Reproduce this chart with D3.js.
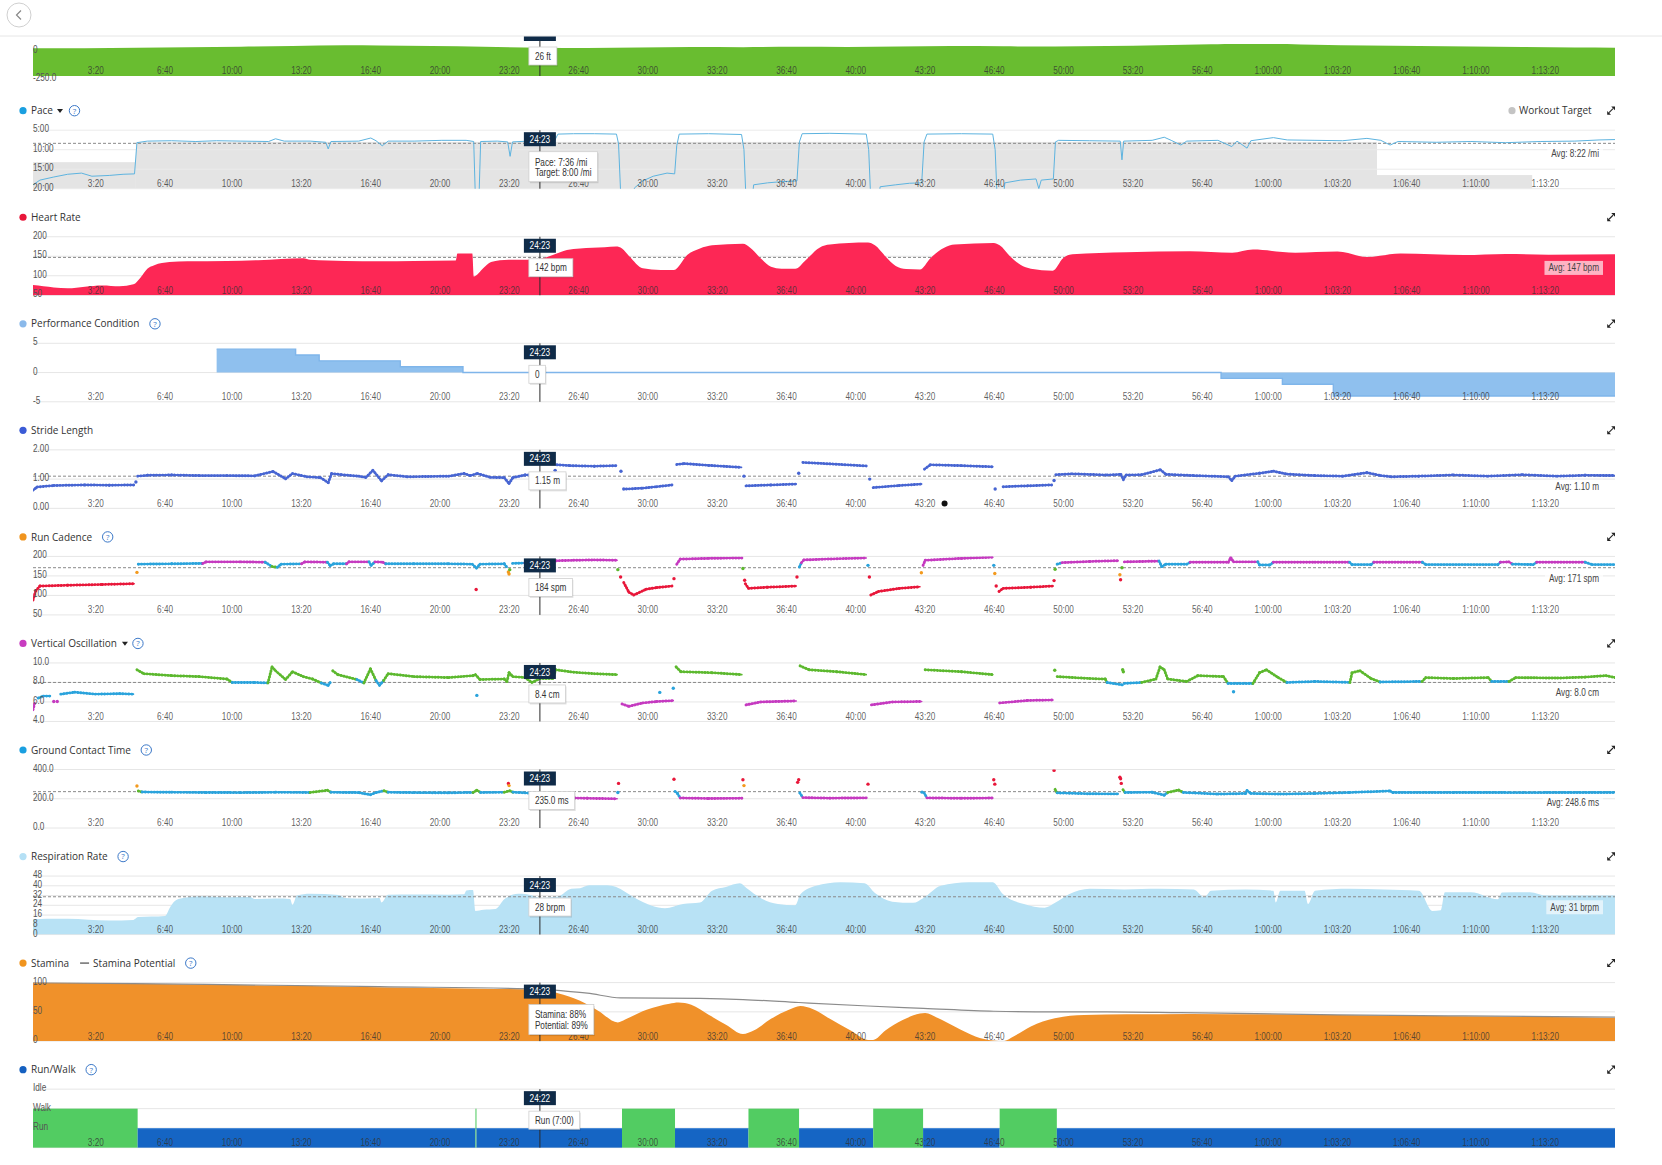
<!DOCTYPE html>
<html><head><meta charset="utf-8">
<script src="https://cdn.jsdelivr.net/npm/d3@7"></script>
<style>
body{margin:0;background:#fff;}
svg text{font-family:"Liberation Sans Narrow","Arial Narrow","Liberation Sans",Arial,sans-serif;}
.ax{font-size:10px;fill:#555;}
.xl{fill:#333;fill-opacity:0.78;}
.ttl{font-family:"Open Sans",sans-serif;font-size:10px;fill:#333;}
.help{font-family:"Open Sans",sans-serif;font-size:8px;fill:#3b78c8;}
.hdr{font-size:10px;fill:#fff;}
.tip{font-size:10px;fill:#333;}
.avg{font-size:10px;fill:#444;}
</style></head><body>
<svg id="c" width="1662" height="1165"></svg>
<script>
// ---------------- DATA ----------------
const xTickSeconds=[200,400,600,800,1000,1200,1400,1600,1800,2000,2200,2400,2600,2800,3000,3200,3400,3600,3800,4000,4200,4400];
const xTickLabels=["3:20","6:40","10:00","13:20","16:40","20:00","23:20","26:40","30:00","33:20","36:40","40:00","43:20","46:40","50:00","53:20","56:40","1:00:00","1:03:20","1:06:40","1:10:00","1:13:20"];
const cursorTime=1463;

const elevTicks=[-250,0], elevLabels=["-250.0","0"];
const elevation=[[0,20],[150,22],[300,25],[450,30],[600,35],[750,40],[900,48],[1000,45],[1150,40],[1300,34],[1463,26],[1600,24],[1750,28],[1900,32],[2050,30],[2200,34],[2350,32],[2500,36],[2650,40],[2800,38],[2950,36],[3100,40],[3250,48],[3400,56],[3500,62],[3600,60],[3700,52],[3850,45],[4000,40],[4150,36],[4300,32],[4450,28],[4566,26]];

const paceTicks=[5,10,15,20], paceLabels=["5:00","10:00","15:00","20:00"];
const paceAvg=8.367;
const targetStart=[0,297,3879], targetEnd=[297,3879,4327], targetPace=[13.2,8.0,16.5];
const pace=[[0,19.0],[20,17.8],[60,17.0],[100,16.3],[140,16.0],[170,16.8],[220,16.6],[260,16.3],[293,16.2],[300,8.2],[330,7.8],[400,7.7],[470,7.9],[530,7.7],[600,7.8],[680,7.9],[700,7.2],[725,7.8],[800,7.8],[845,8.1],[852,9.8],[860,7.9],[940,7.8],[975,7.0],[990,7.7],[1008,9.0],[1025,7.8],[1100,7.8],[1180,7.6],[1250,7.6],[1272,7.9],[1277,23],[1287,23],[1292,7.9],[1340,7.8],[1370,8.0],[1377,11.7],[1384,8.0],[1430,7.8],[1463,7.6],[1505,7.8],[1515,6.0],[1560,5.9],[1620,5.9],[1684,6.0],[1690,8.5],[1697,23],[1730,23],[1736,19.8],[1760,18.0],[1790,16.8],[1830,16.0],[1852,16.2],[1858,9],[1865,6.0],[1950,5.9],[2045,6.1],[2052,10],[2058,23],[2075,23],[2080,19],[2120,18.5],[2160,18.2],[2205,18.0],[2212,8],[2220,5.9],[2300,5.8],[2405,6.0],[2412,10],[2418,23],[2440,23],[2445,19.5],[2490,19],[2530,18.6],[2565,18.5],[2572,8],[2580,6.0],[2680,5.9],[2770,6.0],[2777,10],[2783,23],[2800,23],[2805,18.5],[2850,17.8],[2895,17.5],[2903,20],[2910,17.8],[2945,17.5],[2951,8.0],[2960,7.6],[3050,7.7],[3138,7.8],[3143,12.6],[3148,7.8],[3230,7.6],[3265,6.8],[3285,7.6],[3313,8.8],[3330,7.8],[3420,7.6],[3460,9.2],[3475,7.8],[3504,9.6],[3515,7.7],[3580,6.9],[3620,7.5],[3700,7.6],[3780,7.7],[3850,7.1],[3890,7.6],[3917,8.8],[3940,7.9],[4050,8.1],[4150,7.9],[4250,8.2],[4350,7.9],[4450,7.8],[4520,7.5],[4566,7.4]];

const hrTicks=[50,100,150,200], hrLabels=["50","100","150","200"];
const hrAvg=147;
const heartRate=[[0,76],[30,73],[60,70],[100,68],[150,72],[200,75],[250,73],[290,78],[310,95],[330,118],[350,127],[394,135],[446,137],[560,138],[650,140],[781,145],[800,141],[900,138],[1000,137],[1100,138],[1220,139],[1225,157],[1268,157],[1272,98],[1300,120],[1322,135],[1373,141],[1425,141],[1463,143],[1502,154],[1541,166],[1579,170],[1650,173],[1683,175],[1700,170],[1721,150],[1760,119],[1811,115],[1850,115],[1889,154],[1925,170],[1960,178],[2049,182],[2070,172],[2100,145],[2130,123],[2160,118],[2200,118],[2230,140],[2270,172],[2300,180],[2410,185],[2430,178],[2460,150],[2490,125],[2520,117],[2560,116],[2590,145],[2630,172],[2660,180],[2773,184],[2790,178],[2820,150],[2850,128],[2880,118],[2943,113],[2973,145],[3000,155],[3156,160],[3339,163],[3461,159],[3521,167],[3643,159],[3765,162],[3850,148],[3947,157],[4130,153],[4251,156],[4374,154],[4566,155]];

const pcTicks=[-5,0,5], pcLabels=["-5","0","5"];
const performance=[[530,4],[758,3],[826,2],[1060,1],[1241,0],[3429,-1],[3606,-2],[3753,-4],[4566,-4]];

const strideTicks=[0,1,2], strideLabels=["0.00","1.00","2.00"];
const strideAvg=1.10;
const stride=[[0,0.62],[12,0.73],[60,0.78],[150,0.80],[220,0.79],[292,0.80],null,[302,1.10],[330,1.13],[400,1.14],[480,1.12],[560,1.12],[640,1.11],[693,1.26],[729,1.01],[749,1.19],[790,1.08],[830,1.05],[852,0.88],[862,1.19],[890,1.15],[940,1.10],[961,1.06],[981,1.30],[1006,0.94],[1025,1.15],[1080,1.08],[1140,1.09],[1200,1.10],[1244,1.19],[1262,1.12],[1283,1.19],[1320,1.06],[1360,1.05],[1374,0.85],[1385,1.05],[1420,1.14],[1463,1.15],[1500,1.16],null,[1512,1.49],[1550,1.46],[1620,1.44],[1684,1.46],null,[1712,0.66],[1760,0.69],[1800,0.74],[1845,0.80],null,[1858,1.50],[1880,1.53],[1950,1.47],[2045,1.40],null,[2058,0.77],[2130,0.80],[2203,0.83],null,[2222,1.57],[2300,1.52],[2405,1.45],null,[2425,0.71],[2500,0.78],[2565,0.83],null,[2573,1.34],[2590,1.49],[2680,1.46],[2770,1.42],null,[2800,0.74],[2870,0.77],[2940,0.80],null,[2952,1.15],[3000,1.18],[3100,1.14],[3140,1.16],[3147,0.98],[3155,1.14],[3200,1.15],[3254,1.32],[3270,1.16],[3350,1.12],[3450,1.08],[3460,0.95],[3470,1.10],[3540,1.20],[3580,1.27],[3620,1.17],[3700,1.12],[3780,1.10],[3850,1.22],[3890,1.12],[3920,1.08],[4000,1.10],[4100,1.14],[4200,1.10],[4300,1.15],[4400,1.10],[4480,1.13],[4566,1.12]];
const strideDots=[[297,0.9],[1507,1.3],[1697,1.27],[1705,0.66],[2052,1.1],[2415,1.0],[2777,0.66],[2210,1.2],[2947,0.95]];
const markerDot=[2631,0.17];

const cadTicks=[50,100,150,200], cadLabels=["50","100","150","200"];
const cadAvg=171;
const cadence=[[0,88],[8,112],[20,124],[100,126],[200,128],[292,130],null,[304,180],[400,181],[490,182],[500,186],[600,186],[670,185],[690,174],[705,172],[716,180],[775,181],[785,186],[850,185],[858,176],[868,181],[905,181],[912,186],[970,186],[976,177],[987,186],[1010,185],[1018,181],[1100,181],[1200,181],[1268,180],[1280,170],[1290,180],[1360,181],[1368,172],null,[1384,182],[1420,183],[1463,184],[1505,184],null,[1510,189],[1560,190],[1620,191],[1686,190],null,[1705,133],[1720,108],[1734,101],[1770,116],[1800,120],[1845,124],null,[1858,180],[1868,193],[1950,195],[2046,196],null,[2056,130],[2065,118],[2120,121],[2203,124],null,[2212,173],[2218,184],[2225,191],[2320,194],[2405,196],null,[2418,101],[2440,110],[2500,118],[2560,122],null,[2569,177],[2575,190],[2680,195],[2770,198],null,[2788,110],[2800,118],[2880,121],[2944,124],null,[2956,180],[2970,184],[3050,187],[3132,189],null,[3150,186],[3250,188],[3258,174],[3270,180],[3330,180],[3340,185],[3450,185],[3457,197],[3465,186],[3535,186],[3540,178],[3570,178],[3580,185],[3700,185],[3800,185],[3807,179],[3862,179],[3870,185],[4010,185],[4020,179],[4228,179],[4235,185],[4260,186],[4270,180],[4330,179],[4340,185],[4480,185],[4500,179],[4566,179]];
const cadenceDots=[[300,159],[1279,115],[1372,160],[1374,155],[1376,166],[1688,166],[1696,147],[1850,143],[2049,169],[2054,139],[2205,147],[2410,177],[2414,147],[2564,158],[2773,177],[2776,156],[2780,124],[2947,138],[2950,167],[3137,153],[3139,140],[3143,171]];

const voTicks=[4,6,8,10], voLabels=["4.0","6.0","8.0","10.0"];
const voAvg=8.0;
const vo=[[0,5.2],[5,5.9],null,[15,6.4],[30,6.6],[50,6.6],null,[80,6.8],[120,7.0],[180,6.8],[250,6.85],[290,6.8],null,[300,9.3],[320,8.9],[400,8.7],[480,8.6],[560,8.35],[575,8.0],[640,8.0],[678,7.95],[690,9.6],[700,9.2],[729,8.3],[749,9.1],[780,8.6],[807,8.35],[832,7.95],[852,7.7],[858,8.0],null,[865,9.2],[880,8.8],[935,8.3],[955,7.95],[974,9.4],[990,8.2],[1000,7.7],[1012,8.2],[1025,8.9],[1100,8.6],[1200,8.5],[1270,8.7],[1277,8.8],[1290,8.3],[1360,8.35],[1368,8.1],[1374,9.0],[1385,8.6],[1420,8.5],[1440,8.0],[1463,8.4],[1500,8.4],[1509,9.3],[1560,9.05],[1620,8.9],[1686,8.8],null,[1700,5.8],[1720,5.55],[1760,5.9],[1800,6.04],[1848,6.14],null,[1856,9.6],[1870,9.1],[1960,9.0],[2046,8.8],null,[2058,5.7],[2100,6.0],[2203,6.1],null,[2214,9.7],[2240,9.3],[2320,9.1],[2405,8.8],null,[2420,5.7],[2480,6.0],[2565,6.05],null,[2575,9.3],[2680,9.1],[2770,8.8],null,[2790,5.9],[2870,6.15],[2944,6.2],null,[2956,8.6],[3050,8.4],[3095,8.35],[3100,8.0],[3145,7.75],null,[3150,7.9],[3200,8.0],[3241,8.35],[3253,9.6],[3265,9.3],[3275,8.35],[3330,8.1],[3362,8.7],[3436,8.6],[3449,7.9],[3521,7.9],[3540,9.0],[3560,9.3],[3594,8.5],[3619,8.0],[3700,8.1],[3801,8.0],[3807,9.0],[3830,9.2],[3862,8.4],[3888,8.05],[4009,8.1],[4020,8.5],[4100,8.4],[4200,8.5],[4210,8.1],[4260,8.1],[4280,8.5],[4400,8.45],[4480,8.55],[4540,8.7],[4566,8.5]];
const voDots=[[60,6.04],[70,6.04],[1281,6.67],[1809,6.98],[1848,7.4],[2949,9.25],[3145,9.3],[3147,9.1],[3465,7.04]];

const gctTicks=[0,200,400], gctLabels=["0.0","200.0","400.0"];
const gctAvg=248.6;
const gct=[[304,253],[315,246],[400,244],[500,243],[600,242],[700,244],[800,243],[850,258],[860,244],[940,242],[974,228],[990,242],[1013,255],[1025,244],[1100,242],[1200,241],[1270,243],[1281,258],[1292,243],[1360,244],[1376,255],[1385,245],[1463,235],[1505,240],null,[1512,208],[1600,203],[1686,200],null,[1853,250],[1860,237],[1868,205],[1950,202],[2046,203],null,[2213,240],[2222,208],[2300,204],[2405,206],null,[2572,240],[2580,206],[2680,203],[2770,205],null,[2950,264],[2956,240],[3050,234],[3132,233],null,[3146,262],[3152,243],[3230,244],[3265,225],[3275,243],[3307,260],[3320,243],[3420,232],[3500,236],[3504,256],[3515,236],[3600,232],[3700,236],[3800,243],[3917,253],[3925,243],[4100,243],[4300,242],[4566,243]];
const gctDots=[[300,287],[1372,305],[1374,290],[1688,243],[1690,305],[1850,333],[2049,330],[2052,290],[2207,312],[2210,330],[2410,300],[2566,245],[2773,330],[2776,300],[2947,394],[3137,347],[3139,337],[3141,305]];

const rrTicks=[0,8,16,24,32,40,48], rrLabels=["0","8","16","24","32","40","48"];
const rrAvg=31;
const respiration=[[0,12.5],[40,13],[100,12.9],[160,12.2],[220,11.5],[290,12],[303,14.3],[381,15.2],[395,22],[405,26.3],[420,29.2],[485,31.4],[560,30.6],[626,30.8],[640,29.2],[700,29.5],[742,29.2],[749,24.4],[762,32],[800,33.4],[883,32.5],[900,30],[960,29.5],[1000,30],[1006,26.3],[1025,32.6],[1100,32.8],[1200,32.6],[1244,33],[1251,36.2],[1270,36.5],[1277,19.4],[1300,20.3],[1335,21],[1361,29.2],[1400,33.4],[1425,33],[1451,31],[1463,30],[1515,31.2],[1554,37.6],[1579,38],[1605,40.4],[1657,40.4],[1683,39],[1734,30.6],[1786,23.6],[1824,21.6],[1876,25],[1925,26.3],[1960,36],[2000,39],[2040,42],[2060,38],[2100,30],[2150,25],[2200,24],[2215,33],[2260,40],[2330,43],[2400,42],[2430,34],[2480,27],[2540,26],[2570,30],[2620,40],[2700,43],[2770,43],[2800,33],[2860,25],[2920,22],[2950,26],[2990,33],[3050,37.5],[3150,37],[3250,37.6],[3350,37],[3381,30.6],[3400,36],[3500,37],[3580,36],[3587,26.3],[3600,36],[3670,36],[3680,25],[3700,36],[3800,37.6],[3900,37],[4000,36],[4039,19.4],[4063,20],[4075,34.8],[4150,34.8],[4228,29],[4240,34.5],[4320,34.8],[4370,32],[4450,32],[4566,32]];

const stTicks=[0,50,100], stLabels=["0","50","100"];
const stamina=[[0,100],[300,98],[700,95],[1000,92],[1300,89.5],[1463,88],[1515,82],[1579,69],[1631,52],[1688,32],[1709,37],[1773,54],[1837,64],[1863,66],[1900,62],[1950,45],[2000,28],[2049,12],[2080,18],[2130,38],[2180,53],[2215,60],[2250,55],[2300,38],[2360,18],[2410,2],[2425,2],[2460,18],[2510,36],[2560,47],[2575,48],[2610,40],[2660,25],[2720,8],[2770,1],[2800,0],[2830,8],[2880,25],[2949,39],[3034,44.6],[3156,45.7],[3339,46.5],[3765,44.6],[4130,42.3],[4374,41],[4566,39.7]];
const potential=[[0,100],[500,97],[1000,93],[1463,89],[1530,86],[1600,82],[1696,74],[1925,73],[2050,71],[2210,66],[2410,60],[2570,56],[2773,51],[2950,50],[3100,50],[3313,48.6],[3765,45],[4130,43],[4566,41]];

const rwTicks=[1,2,3], rwLabels=["Run","Walk","Idle"];
const runWalk=[[0,2],[302,1],[1277,2],[1280,1],[1700,2],[1853,1],[2065,2],[2211,1],[2425,2],[2569,1],[2790,2],[2955,1],[4566,1]];

// ---------------- DRAW ----------------
const svg=d3.select("#c");
const X0=33,X1=1615;
const x=d3.scaleLinear().domain([0,4566]).range([X0,X1]);
const CX=x(cursorTime);
const T0=110.7,DT=106.55,PH=58.5;

// condense factor so the label font matches the narrow reference face
let K=1;
{const t=svg.append("text").attr("class","ax").text("1:13:20");const w=t.node().getComputedTextLength();t.remove();if(w>28.5)K=27.4/w;}
function cond(node){const L=node.getComputedTextLength();if(K<0.99){node.setAttribute("textLength",L*K);node.setAttribute("lengthAdjust","spacingAndGlyphs");}return L*K;}

function frame(i){const ty=T0+i*DT;return {ty:ty,top:ty+19.5,bot:ty+19.5+PH};}
let clipN=0;
function clip(top,bot){const id="cl"+(clipN++);svg.append("clipPath").attr("id",id).append("rect").attr("x",X0).attr("y",top).attr("width",X1-X0).attr("height",bot-top);return "url(#"+id+")";}
function grid(y,ticks,col){ticks.forEach(v=>svg.append("line").attr("x1",X0).attr("x2",X1).attr("y1",y(v)).attr("y2",y(v)).attr("stroke",col||"#e6e6e6").attr("stroke-width",1));}
function dashed(yv){svg.append("line").attr("x1",X0).attr("x2",X1).attr("y1",yv).attr("y2",yv).attr("stroke","#8a8a8a").attr("stroke-width",1).attr("stroke-dasharray","3,2");}
function yAxis(y,ticks,labels){const g=svg.append("g").attr("transform","translate("+X0+",0)").call(d3.axisRight(y).tickValues(ticks).tickFormat((d,i)=>labels[i]).tickSize(0).tickPadding(0));g.select(".domain").remove();g.selectAll("text").attr("class","ax").attr("x",0).attr("dy",1.5).each(function(){cond(this);});}
function xAxis(bot){const g=svg.append("g").attr("transform","translate(0,"+(bot-1.6)+")").call(d3.axisBottom(x).tickValues(xTickSeconds).tickFormat((d,i)=>xTickLabels[i]).tickSize(0).tickPadding(0));g.select(".domain").remove();g.selectAll("text").attr("class","ax xl").attr("y",0).attr("dy",0).attr("x",1).attr("text-anchor","end").each(function(){cond(this);});}
function cross(top,bot){svg.append("line").attr("x1",CX).attr("x2",CX).attr("y1",top).attr("y2",bot).attr("stroke","#2b2b2b").attr("stroke-width",1);}
function header(top,txt){svg.append("rect").attr("x",CX-16).attr("y",top+2).attr("width",32).attr("height",14).attr("fill","#0f2b48");const t=svg.append("text").attr("class","hdr").attr("x",CX).attr("y",top+12.6).attr("text-anchor","middle").text(txt||"24:23");cond(t.node());}
function tipBox(by,lines){const g=svg.append("g");const bx=CX-11;const h=lines.length===1?18:30;const sh=g.append("rect").attr("x",bx+1).attr("y",by+1.5).attr("height",h).attr("fill","#000").attr("opacity",0.12);const box=g.append("rect").attr("x",bx).attr("y",by).attr("height",h).attr("fill","#fff").attr("stroke","#cfcfcf").attr("stroke-width",0.8);let w=0;lines.forEach((s,k)=>{const t=g.append("text").attr("class","tip").attr("x",bx+6).attr("y",by+(lines.length===1?12.6:13.8)+k*10.4).text(s);w=Math.max(w,cond(t.node()));});box.attr("width",w+12);sh.attr("width",w+12);}
function avgLabel(yv,txt,bgOp){const g=svg.append("g");const r=g.append("rect").attr("y",yv+3.5).attr("height",14).attr("fill","#fff").attr("opacity",bgOp);const t=g.append("text").attr("class","avg").attr("x",1599).attr("y",yv+14).attr("text-anchor","end").text(txt);const w=cond(t.node());r.attr("x",1599-w-4).attr("width",w+8);}
function helpIcon(cx,cy){svg.append("circle").attr("cx",cx).attr("cy",cy).attr("r",5.2).attr("fill","#fff").attr("stroke","#3b78c8").attr("stroke-width",1);svg.append("text").attr("class","help").attr("x",cx).attr("y",cy+2.9).attr("text-anchor","middle").text("?");}
function caret(cx,cy){svg.append("path").attr("d","M"+(cx-3)+","+(cy-1.8)+" h6 l-3,4 z").attr("fill","#222");}
function expandIcon(cy){const e=1611;svg.append("path").attr("d","M"+(e+4)+","+(cy-4.2)+" l0,3.8 l-3.8,-3.8 z M"+(e-3.8)+","+(cy+4)+" l0,-3.8 l3.8,3.8 z").attr("fill","#222");svg.append("line").attr("x1",e-2).attr("y1",cy+2).attr("x2",e+2).attr("y2",cy-2).attr("stroke","#222").attr("stroke-width",1.1);}
function title(ty,color,txt,x0){svg.append("circle").attr("cx",23).attr("cy",ty).attr("r",3.6).attr("fill",color);const t=svg.append("text").attr("class","ttl").attr("x",x0||31).attr("y",ty+3.6).text(txt);return (x0||31)+t.node().getComputedTextLength();}
function splitSegs(data){const segs=[];let s=[];data.forEach(d=>{if(d===null){if(s.length)segs.push(s);s=[];}else s.push(d);});if(s.length)segs.push(s);return segs;}
function zoneLine(data,y,zone,cp){const g=svg.append("g").attr("clip-path",cp);splitSegs(data).forEach(s=>{for(let k=0;k<s.length-1;k++){const a=s[k],b=s[k+1];const col=typeof zone==="string"?zone:zone((a[1]+b[1])/2);
g.append("line").attr("x1",x(a[0])).attr("y1",y(a[1])).attr("x2",x(b[0])).attr("y2",y(b[1])).attr("stroke",col).attr("stroke-width",1.6).attr("stroke-linecap","round");
g.append("line").attr("x1",x(a[0])).attr("y1",y(a[1])).attr("x2",x(b[0])).attr("y2",y(b[1])).attr("stroke",col).attr("stroke-width",2.9).attr("stroke-linecap","round").attr("stroke-dasharray","0.4,2.6");}});return g;}
function dots(data,y,zone,cp){const g=svg.append("g").attr("clip-path",cp);data.forEach(d=>g.append("circle").attr("cx",x(d[0])).attr("cy",y(d[1])).attr("r",1.7).attr("fill",typeof zone==="string"?zone:zone(d[1])));}

const ZC=["#e8173a","#f39a1e","#5cb82e","#2aa3dc","#c53ac0"];
const cadZone=d3.scaleThreshold().domain([153,164,174,183]).range(ZC);
const voZone=d3.scaleThreshold().domain([6.4,8.15,9.7,11.5]).range(["#c53ac0","#2aa3dc","#5cb82e","#f39a1e","#e8173a"]);
const gctZone=d3.scaleThreshold().domain([218,249,273,300]).range(["#c53ac0","#2aa3dc","#5cb82e","#f39a1e","#e8173a"]);

// top bar
svg.append("circle").attr("cx",19).attr("cy",15).attr("r",12).attr("fill","#fff").attr("stroke","#d0d0d0");
svg.append("path").attr("d","M21,10.5 L16.5,15 L21,19.5").attr("fill","none").attr("stroke","#888").attr("stroke-width",1.2);
svg.append("line").attr("x1",0).attr("x2",1662).attr("y1",36).attr("y2",36).attr("stroke","#e6e6e6");

// Elevation
{const top=44,bot=76;const y=d3.scaleLinear().domain([-250,0]).range([78.6,50.6]);const cp=clip(top,bot);
svg.append("path").datum(elevation).attr("clip-path",cp).attr("fill","#69bd30").attr("d",d3.area().x(d=>x(d[0])).y0(bot).y1(d=>y(d[1])).curve(d3.curveMonotoneX));
yAxis(y,elevTicks,elevLabels);xAxis(bot);cross(38,bot);
svg.append("rect").attr("x",CX-16).attr("y",36.5).attr("width",32).attr("height",4.5).attr("fill","#0f2b48");
tipBox(47,["26 ft"]);}

// Pace
{const f=frame(0);const y=d3.scaleLinear().domain([20,5]).range([f.bot,f.top]);const cp=clip(f.top,f.bot);
const e=title(f.ty,"#1a9fe0","Pace");caret(e+7,f.ty);helpIcon(e+21.5,f.ty);expandIcon(f.ty);
svg.append("circle").attr("cx",1512).attr("cy",f.ty).attr("r",3.6).attr("fill","#c4c4c4");
svg.append("text").attr("class","ttl").attr("x",1519).attr("y",f.ty+3.6).text("Workout Target");
targetStart.forEach((s,k)=>svg.append("rect").attr("x",x(s)).attr("width",x(targetEnd[k])-x(s)).attr("y",y(targetPace[k])).attr("height",f.bot-y(targetPace[k])).attr("fill","#e4e4e4"));
grid(y,paceTicks,"#ebebeb");dashed(y(paceAvg));
svg.append("path").datum(pace).attr("clip-path",cp).attr("fill","none").attr("stroke","#5db3df").attr("stroke-width",1).attr("d",d3.line().x(d=>x(d[0])).y(d=>y(d[1])));
yAxis(y,paceTicks,paceLabels);xAxis(f.bot);cross(f.top,f.bot);header(f.top);tipBox(f.top+21.5,["Pace: 7:36 /mi","Target: 8:00 /mi"]);avgLabel(y(paceAvg),"Avg: 8:22 /mi",0.7);}

// Heart rate
{const f=frame(1);const y=d3.scaleLinear().domain([50,200]).range([f.bot,f.top]);const cp=clip(f.top,f.bot);
title(f.ty,"#e8173a","Heart Rate");expandIcon(f.ty);
grid(y,hrTicks);dashed(y(hrAvg));
svg.append("path").datum(heartRate).attr("clip-path",cp).attr("fill","#fd2755").attr("d",d3.area().x(d=>x(d[0])).y0(f.bot).y1(d=>y(d[1])).curve(d3.curveMonotoneX));
yAxis(y,hrTicks,hrLabels);xAxis(f.bot);cross(f.top,f.bot);header(f.top);tipBox(f.top+22,["142 bpm"]);avgLabel(y(hrAvg),"Avg: 147 bpm",0.65);}

// Performance condition
{const f=frame(2);const y=d3.scaleLinear().domain([-5,5]).range([f.bot,f.top]);const cp=clip(f.top,f.bot);
const e=title(f.ty,"#8ab9ea","Performance Condition");helpIcon(e+15.5,f.ty);expandIcon(f.ty);
grid(y,pcTicks);
svg.append("path").datum(performance).attr("clip-path",cp).attr("fill","#8fc0ee").attr("d",d3.area().x(d=>x(d[0])).y0(y(0)).y1(d=>y(d[1])).curve(d3.curveStepAfter));
svg.append("path").datum(performance).attr("clip-path",cp).attr("fill","none").attr("stroke","#7fb5ea").attr("stroke-width",1.4).attr("d",d3.line().x(d=>x(d[0])).y(d=>y(d[1])).curve(d3.curveStepAfter));
yAxis(y,pcTicks,pcLabels);xAxis(f.bot);cross(f.top,f.bot);header(f.top);tipBox(f.top+22,["0"]);}

// Stride length
{const f=frame(3);const y=d3.scaleLinear().domain([0,2]).range([f.bot,f.top]);const cp=clip(f.top,f.bot);
title(f.ty,"#3b5bd6","Stride Length");expandIcon(f.ty);
grid(y,strideTicks);dashed(y(strideAvg));
zoneLine(stride,y,"#4765d2",cp);dots(strideDots,y,"#4765d2",cp);
svg.append("circle").attr("cx",x(markerDot[0])).attr("cy",y(markerDot[1])).attr("r",3).attr("fill","#111");
yAxis(y,strideTicks,strideLabels);xAxis(f.bot);cross(f.top,f.bot);header(f.top);tipBox(f.top+22,["1.15 m"]);avgLabel(y(strideAvg),"Avg: 1.10 m",0.7);}

// Run cadence
{const f=frame(4);const y=d3.scaleLinear().domain([50,200]).range([f.bot,f.top]);const cp=clip(f.top,f.bot);
const e=title(f.ty,"#f0941e","Run Cadence");helpIcon(e+15.5,f.ty);expandIcon(f.ty);
grid(y,cadTicks);dashed(y(cadAvg));
zoneLine(cadence,y,cadZone,cp);dots(cadenceDots,y,cadZone,cp);
yAxis(y,cadTicks,cadLabels);xAxis(f.bot);cross(f.top,f.bot);header(f.top);tipBox(f.top+22,["184 spm"]);avgLabel(y(cadAvg),"Avg: 171 spm",0.7);}

// Vertical oscillation
{const f=frame(5);const y=d3.scaleLinear().domain([4,10]).range([f.bot,f.top]);const cp=clip(f.top,f.bot);
const e=title(f.ty,"#c83cc0","Vertical Oscillation");caret(e+8,f.ty);helpIcon(e+21,f.ty);expandIcon(f.ty);
grid(y,voTicks);dashed(y(voAvg));
zoneLine(vo,y,voZone,cp);dots(voDots,y,voZone,cp);
yAxis(y,voTicks,voLabels);xAxis(f.bot);cross(f.top,f.bot);header(f.top);tipBox(f.top+22,["8.4 cm"]);avgLabel(y(voAvg),"Avg: 8.0 cm",0.7);}

// Ground contact time
{const f=frame(6);const y=d3.scaleLinear().domain([0,400]).range([f.bot,f.top]);const cp=clip(f.top,f.bot);
const e=title(f.ty,"#1a9fe0","Ground Contact Time");helpIcon(e+15.5,f.ty);expandIcon(f.ty);
grid(y,gctTicks);dashed(y(gctAvg));
zoneLine(gct,y,gctZone,cp);dots(gctDots,y,gctZone,cp);
yAxis(y,gctTicks,gctLabels);xAxis(f.bot);cross(f.top,f.bot);header(f.top);tipBox(f.top+22,["235.0 ms"]);avgLabel(y(gctAvg),"Avg: 248.6 ms",0.7);}

// Respiration rate
{const f=frame(7);const y=d3.scaleLinear().domain([0,48]).range([f.bot,f.top]);const cp=clip(f.top,f.bot);
const e=title(f.ty,"#b5e0f5","Respiration Rate");helpIcon(e+15.5,f.ty);expandIcon(f.ty);
grid(y,rrTicks);
svg.append("path").datum(respiration).attr("clip-path",cp).attr("fill","#b8e2f5").attr("d",d3.area().x(d=>x(d[0])).y0(f.bot).y1(d=>y(d[1])).curve(d3.curveMonotoneX));
dashed(y(rrAvg));
yAxis(y,rrTicks,rrLabels);xAxis(f.bot);cross(f.top,f.bot);header(f.top);tipBox(f.top+22,["28 brpm"]);avgLabel(y(rrAvg),"Avg: 31 brpm",0.6);}

// Stamina
{const f=frame(8);const y=d3.scaleLinear().domain([0,100]).range([f.bot,f.top]);const cp=clip(f.top,f.bot);
const e1=title(f.ty,"#f0941e","Stamina");
svg.append("line").attr("x1",e1+11).attr("x2",e1+20).attr("y1",f.ty).attr("y2",f.ty).attr("stroke","#777").attr("stroke-width",1.6);
const t2=svg.append("text").attr("class","ttl").attr("x",e1+24).attr("y",f.ty+3.6).text("Stamina Potential");
helpIcon(e1+24+t2.node().getComputedTextLength()+15.5,f.ty);expandIcon(f.ty);
grid(y,stTicks);
svg.append("path").datum(stamina).attr("clip-path",cp).attr("fill","#f0912a").attr("d",d3.area().x(d=>x(d[0])).y0(f.bot).y1(d=>y(d[1])).curve(d3.curveMonotoneX));
svg.append("path").datum(potential).attr("clip-path",cp).attr("fill","none").attr("stroke","#8c8c8c").attr("stroke-width",1.2).attr("d",d3.line().x(d=>x(d[0])).y(d=>y(d[1])).curve(d3.curveMonotoneX));
yAxis(y,stTicks,stLabels);xAxis(f.bot);cross(f.top,f.bot);header(f.top);tipBox(f.top+22,["Stamina: 88%","Potential: 89%"]);}

// Run/Walk
{const f=frame(9);const y=d3.scaleLinear().domain([0,3]).range([f.bot,f.top]);
const e=title(f.ty,"#1560c0","Run/Walk");helpIcon(e+15.5,f.ty);expandIcon(f.ty);
grid(y,[0,1,2,3]);
for(let k=0;k<runWalk.length-1;k++){const a=runWalk[k],b=runWalk[k+1];const walk=a[1]===2;
svg.append("rect").attr("x",x(a[0])).attr("width",Math.max(1,x(b[0])-x(a[0]))).attr("y",y(a[1])).attr("height",f.bot-y(a[1])).attr("fill",walk?"#52cc62":"#1565c4");
if(!walk)svg.append("line").attr("x1",x(a[0])).attr("x2",x(b[0])).attr("y1",y(a[1])+0.5).attr("y2",y(a[1])+0.5).attr("stroke","#4f8fd8").attr("stroke-width",1);}
yAxis(y,rwTicks,rwLabels);xAxis(f.bot);cross(f.top,f.bot);header(f.top,"24:22");tipBox(f.top+22,["Run (7:00)"]);}
</script></body></html>
